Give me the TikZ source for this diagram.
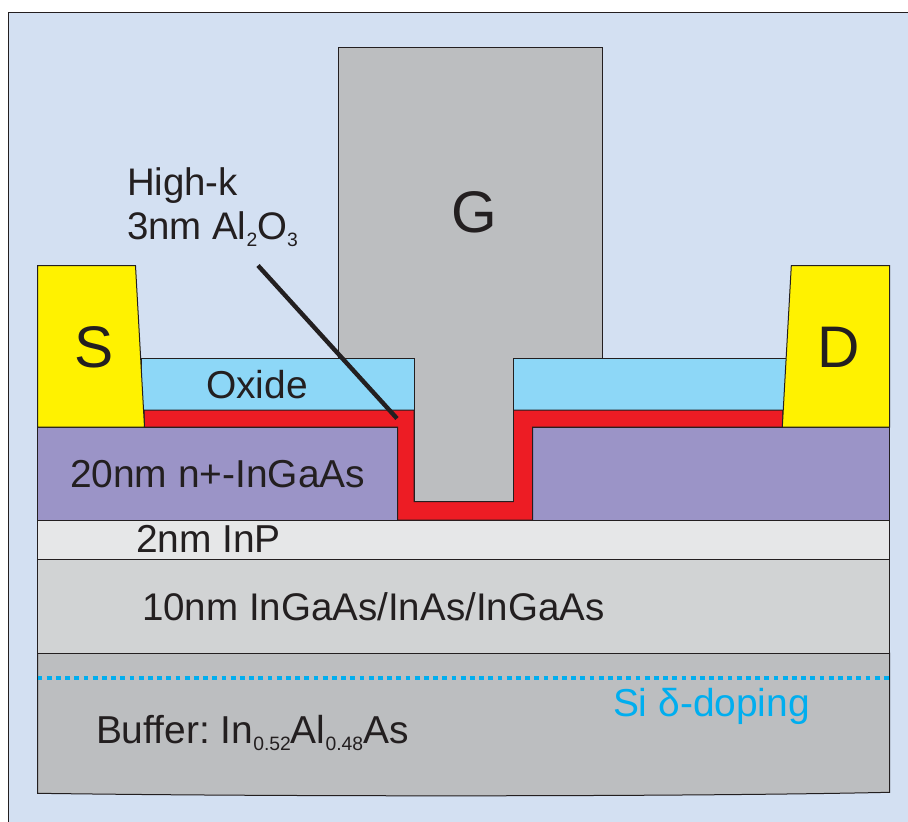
\documentclass[tikz,border=0pt]{standalone}
\usepackage{fontspec}
\setmainfont{Liberation Sans}
\definecolor{panelbg}{HTML}{D3E0F2}
\definecolor{inkc}{HTML}{231F20}
\definecolor{contact}{HTML}{FFF200}
\definecolor{capn}{HTML}{9B94C7}
\definecolor{highk}{HTML}{ED1C24}
\definecolor{oxidec}{HTML}{8DD7F7}
\definecolor{inpc}{HTML}{E6E7E8}
\definecolor{channelc}{HTML}{D1D3D4}
\definecolor{greyc}{HTML}{BCBEC0}
\definecolor{dopec}{HTML}{00AEEF}
\newcommand{\sbs}[1]{\raisebox{-0.2em}{\fontsize{14.5}{14.5}\selectfont #1}}
\tikzset{
  x=0.75pt,y=-0.75pt,
  layer/.style={draw=inkc,line width=0.75pt,line join=miter},
  lbl/.style={anchor=base west,inner sep=0pt,outer sep=0pt,text=inkc,font=\fontsize{29.2}{32.4}\selectfont\frenchspacing},
  big/.style={anchor=base west,inner sep=0pt,outer sep=0pt,text=inkc,font=\fontsize{44}{44}\selectfont},
}
\begin{document}
\begin{tikzpicture}
\useasboundingbox (0,0) rectangle (908,822);
\fill[white] (0,0) rectangle (908,822);
\fill[panelbg] (8.5,12.5) rectangle (908,822);
\draw[inkc,line width=0.9pt] (8.5,822) -- (8.5,12.5) -- (908,12.5);
% layers
\draw[layer,fill=greyc] (37.5,653) -- (889.5,653) -- (889.5,792.3)
  .. controls (700,796.5) and (300,797) .. (37.5,793.3) -- cycle;
\draw[layer,fill=channelc] (37.5,559) rectangle (889.5,653);
\draw[layer,fill=inpc] (37.5,520) rectangle (889.5,559);
\draw[layer,fill=capn] (37.5,427) rectangle (397.5,520);
\draw[layer,fill=capn] (532.5,427) rectangle (889.5,520);
\draw[layer,fill=oxidec] (141,358.7) rectangle (414,410);
\draw[layer,fill=oxidec] (513,358.7) rectangle (786,410);
\draw[layer,fill=highk] (144,410) -- (414,410) -- (414,501.7) -- (513,501.7) -- (513,410)
  -- (783,410) -- (782.5,427) -- (532.5,427) -- (532.5,520) -- (397.5,520) -- (397.5,427) -- (144.5,427) -- cycle;
\draw[layer,fill=greyc] (338.5,47.7) -- (602.5,47.7) -- (602.5,358.7) -- (513,358.7) -- (513,501.7)
  -- (414,501.7) -- (414,358.7) -- (338.5,358.7) -- cycle;
\draw[layer,fill=contact] (37.5,265.7) -- (135.5,265.7) -- (144.5,427) -- (37.5,427) -- cycle;
\draw[layer,fill=contact] (791.3,265.7) -- (889.5,265.7) -- (889.5,427) -- (782.3,427) -- cycle;
% delta doping
\coordinate (dopeL) at (37.5,678);
\coordinate (dopeR) at (889.5,678);
\draw[dopec,line width=3.6pt,dash pattern=on 3.6pt off 3.3pt] (dopeL) -- (dopeR);
% labels
\node[lbl,font=\fontsize{28.8}{32.4}\selectfont\frenchspacing,align=left,anchor=north west] (highklabel) at (127,168) {High-k\\3nm Al\sbs{2}O\sbs{3}};
\node[big] (glabel) at (451,232) {G};
\node[big] (slabel) at (74,367) {S};
\node[big] (dlabel) at (817,367) {D};
\node[lbl] (oxidelabel) at (206,398) {Oxide};
\node[lbl] (caplabel) at (70,487) {20nm n+-InGaAs};
\node[lbl] (inplabel) at (136,552) {2nm InP};
\node[lbl,font=\fontsize{28.9}{32}\selectfont] (channellabel) at (142,620) {10nm InGaAs/InAs/InGaAs};
\node[lbl] (bufferlabel) at (96,743) {Buffer: In\sbs{0.52}Al\sbs{0.48}As};
\node[lbl,text=dopec] (dopelabel) at (613,716) {Si δ-doping};
% leader
\coordinate (leadA) at (258,265.5);
\coordinate (leadB) at (397,418.5);
\draw[inkc,line width=3.3pt] (leadA) -- (leadB);
\end{tikzpicture}
\end{document}
